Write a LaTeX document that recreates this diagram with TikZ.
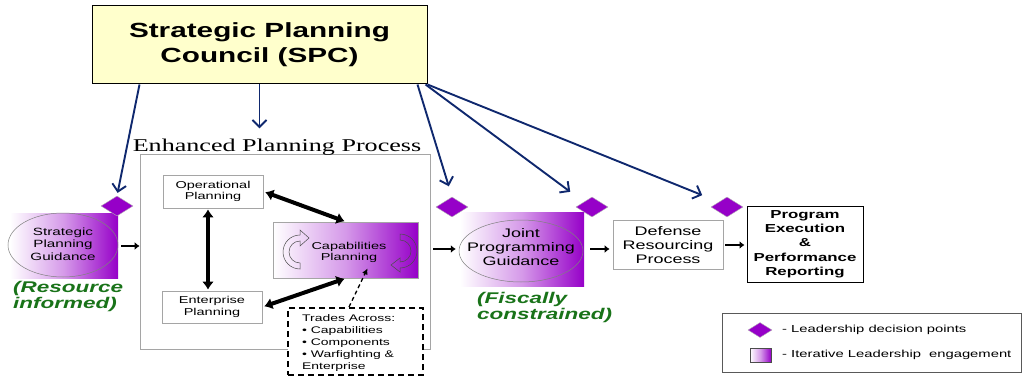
\documentclass[tikz,border=0pt]{standalone}
\usepackage{fontspec}
\setmainfont{Liberation Sans}[FakeStretch=1.45]
\newfontfamily\serifw{Liberation Serif}[FakeStretch=1.45]
\usetikzlibrary{shapes.geometric,arrows.meta,calc}
\definecolor{purp}{RGB}{150,0,200}
\definecolor{navy}{RGB}{15,40,110}
\definecolor{dgreen}{RGB}{25,115,25}
\definecolor{spcyel}{RGB}{255,255,204}
\definecolor{bordgray}{RGB}{165,165,165}
\begin{document}
\begin{tikzpicture}[x=1pt,y=-1pt,
  box/.style={draw=bordgray, fill=white, line width=0.8pt, align=center, inner sep=0pt},
  grad/.style={left color=white, right color=purp, middle color=purp!40},
  dmd/.style={diamond, fill=purp, draw=gray!60, line width=0.4pt, minimum width=32pt, minimum height=20pt, inner sep=0pt},
  navyarr/.style={draw=navy, line width=1.9pt, -{Straight Barb[length=7pt,width=14pt]}},
  dbl/.style={line width=4pt, {Latex[length=8pt,width=12pt]}-{Latex[length=8pt,width=12pt]}},
  smallarr/.style={line width=2.2pt, -{Latex[length=5pt,width=8pt]}},
  curv/.style={draw=gray!60!black, line width=0.5pt},
  lbl/.style={align=center, inner sep=0pt},
  green/.style={text=dgreen, align=left, inner sep=0pt, anchor=north west, font={\bfseries\itshape\fontsize{15.5}{16}\selectfont}},
]
\useasboundingbox (0,0) rectangle (1024,377);
% SPC
\node[draw=black, fill=spcyel, line width=1pt, minimum width=335pt, minimum height=78pt,
  font={\bfseries\fontsize{20.5}{25}\selectfont}, align=center] (spc) at (259.5,45) {Strategic Planning\\Council (SPC)};
% Enhanced planning process
\node[draw=bordgray, line width=0.8pt, minimum width=290pt, minimum height=195pt] (epp) at (285,251.5) {};
\node[anchor=base, font={\serifw\fontsize{18}{20}\selectfont}, inner sep=0pt] (ttl) at (277,151) {Enhanced Planning Process};
\node[box, minimum width=100pt, minimum height=33pt, font={\fontsize{10}{11.7}\selectfont}] (op) at (213,191.5) {Operational\\Planning};
\node[box, minimum width=100pt, minimum height=32pt, font={\fontsize{10}{11.7}\selectfont}] (ent) at (212,307) {Enterprise\\Planning};
\node[grad, draw=bordgray, line width=0.8pt, minimum width=145pt, minimum height=56pt] (cap) at (345.5,250) {};
\node[lbl, font={\fontsize{10}{11}\selectfont}] (captxt) at (349,252) {Capabilities\\Planning};
\draw[curv] (300,269) arc[start angle=90, end angle=270, radius=17] -- (300,230) -- (309,238) -- (300,246) -- (300,241) arc[start angle=270, end angle=90, radius=11] -- cycle;
\draw[curv] (400,234) arc[start angle=-90, end angle=90, radius=17] -- (400,272) -- (391,265) -- (400,258) -- (400,262) arc[start angle=90, end angle=-90, radius=11] -- cycle;
% trades box
\node[draw=black, fill=white, line width=2pt, dash pattern=on 6pt off 4pt, minimum width=135pt, minimum height=67pt] (trd) at (355.5,341.5) {};
\node[anchor=west, align=left, inner sep=0pt, font={\fontsize{9.6}{12}\selectfont}] (trdtxt) at (302,343)
  {Trades Across:\\\textbullet{} Capabilities\\\textbullet{} Components\\\textbullet{} Warfighting \&\\Enterprise};
% SPG
\node[grad, minimum width=108pt, minimum height=65pt] (spgr) at (64,246) {};
\node[ellipse, draw=gray, line width=0.5pt, minimum width=110pt, minimum height=64pt, inner sep=0pt] (spg) at (63,245) {};
\node[lbl, font={\fontsize{10.5}{12.5}\selectfont}] (spgtxt) at (63,244) {Strategic\\Planning\\Guidance};
\node[dmd] (d1) at (117,206) {};
\node[green] (res) at (13,281) {(Resource\\informed)};
% JPG
\node[grad, minimum width=124pt, minimum height=74pt] (jpgr) at (522,249) {};
\node[ellipse, draw=gray, line width=0.5pt, minimum width=124pt, minimum height=62pt, inner sep=0pt] (jpg) at (521,251) {};
\node[lbl, font={\fontsize{12.4}{14}\selectfont}] (jpgtxt) at (521,247) {Joint\\Programming\\Guidance};
\node[green] (fis) at (477,292) {(Fiscally\\constrained)};
\node[dmd] (d2) at (452,207) {};
\node[dmd] (d3) at (592,207) {};
\node[dmd] (d4) at (727,207) {};
% DRP and PEPR
\node[box, minimum width=110pt, minimum height=49pt, font={\fontsize{12.4}{14}\selectfont}] (drp) at (668,245) {Defense\\Resourcing\\Process};
\node[draw=black, fill=white, line width=1pt, minimum width=116pt, minimum height=76pt, align=center, inner sep=0pt,
  font={\bfseries\fontsize{11.6}{14.3}\selectfont}] (pepr) at (805,244) {Program\\Execution\\\&\\Performance\\Reporting};
% legend
\node[draw=gray!70!black, line width=0.8pt, minimum width=299pt, minimum height=59pt] (leg) at (871.5,342.5) {};
\node[diamond, fill=purp, draw=gray!60, line width=0.4pt, minimum width=24pt, minimum height=15pt, inner sep=0pt] (legd) at (760,330) {};
\node[grad, draw=black!70, line width=0.6pt, minimum width=21pt, minimum height=14pt] (legg) at (760.5,355) {};
\node[anchor=west, inner sep=0pt, font={\fontsize{10.2}{11}\selectfont}] (legt1) at (782,330) {- Leadership decision points};
\node[anchor=west, inner sep=0pt, font={\fontsize{10.2}{11}\selectfont}] (legt2) at (782,355) {- Iterative Leadership\hspace{8pt}engagement};
% connectors
\coordinate (vtop) at ($(op.south)+(-5,0)$);
\draw[navyarr, shorten >=3pt] ($(spc.south west)+(48,0)$) -- (d1.north);
\draw[navyarr, shorten >=10pt] (spc.south) -- (spc.south |- ttl.north);
\draw[navyarr, shorten >=11pt] ($(spc.south east)+(-10,0)$) -- (d2.north);
\draw[navyarr, shorten >=17pt] ($(spc.south east)+(-2,0)$) -- (d3.north west);
\draw[navyarr, shorten >=18pt] (spc.south east) -- (d4.north west);
\draw[dbl, shorten <=2pt, shorten >=1pt] (op.east) -- (cap.north);
\draw[dbl, shorten <=1pt, shorten >=1pt] (vtop) -- (vtop |- ent.north);
\draw[dbl, shorten <=2pt, shorten >=1pt] (ent.east) -- (cap.south);
\draw[line width=1.3pt, dash pattern=on 4pt off 3pt, -{Latex[length=6pt,width=6pt]}] ($(trd.north west)+(62,0)$) -- ($(cap.south)+(22,-10)$);
\draw[smallarr, shorten <=3pt] (spgr.east) -- (spgr.east -| epp.west);
\draw[smallarr, shorten <=3pt, shorten >=4pt] (epp.east |- jpgr.west) -- (jpgr.west);
\draw[smallarr, shorten <=6pt, shorten >=3pt] (jpgr.east) -- (jpgr.east -| drp.west);
\draw[smallarr, shorten <=2pt, shorten >=2pt] (drp.east) -- (drp.east -| pepr.west);
\end{tikzpicture}
\end{document}
